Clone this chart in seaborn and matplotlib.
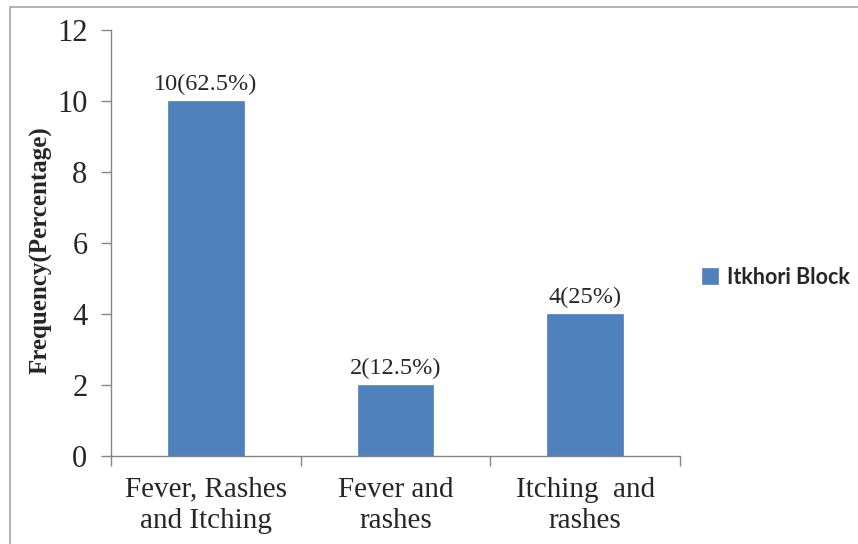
import matplotlib
matplotlib.use("Agg")
import matplotlib.pyplot as plt
import seaborn as sns
import pandas as pd
from matplotlib.patches import Rectangle
from matplotlib.ticker import FixedLocator, MultipleLocator

# Symptom frequencies reported in the block
symptoms = ["Fever, Rashes\nand Itching", "Fever and\nrashes", "Itching  and\nrashes"]
counts = [10, 2, 4]
percentages = [62.5, 12.5, 25]
block = "Itkhori Block"

df = pd.DataFrame({"Symptom": symptoms, "Frequency": counts, "Block": [block] * len(symptoms)})

sns.set_theme(style="white")
plt.rcParams["font.family"] = ["Liberation Serif", "DejaVu Serif"]

fig = plt.figure(figsize=(8.58, 5.44), dpi=100)
ax = fig.add_axes([0.1294, 0.1618, 0.6631, 0.7831])

bar_color = "#4F81BD"
sns.barplot(data=df, x="Symptom", y="Frequency", hue="Block", palette=[bar_color],
            width=0.4, ax=ax, saturation=1, edgecolor=bar_color, linewidth=0.5)

ax.set_xlim(-0.5, len(symptoms) - 0.5)
ax.set_ylim(0, 12)
ax.yaxis.set_major_locator(MultipleLocator(2))

# Value labels above each bar
labels = [f"{c}({p:g}%)" for c, p in zip(counts, percentages)]
ax.bar_label(ax.containers[0], labels=labels, padding=4, fontsize=17.5,
             family=["Liberation Serif"])

axis_color = "#868686"
for side in ["top", "right"]:
    ax.spines[side].set_visible(False)
for side in ["left", "bottom"]:
    ax.spines[side].set_color(axis_color)
    ax.spines[side].set_linewidth(1.0)

# Category separators as tick marks below the axis
ax.xaxis.set_minor_locator(FixedLocator([i - 0.5 for i in range(len(symptoms) + 1)]))
ax.tick_params(axis="x", which="major", length=0, pad=15, labelsize=21)
ax.tick_params(axis="x", which="minor", length=7, width=1.0, color=axis_color, bottom=True)
ax.tick_params(axis="y", which="major", length=7, width=1.0, color=axis_color, left=True,
               pad=10, labelsize=22)
for lbl in ax.get_xticklabels():
    lbl.set_linespacing(1.28)

ax.set_xlabel("")
ax.set_ylabel("Frequency(Percentage)", fontsize=18, fontweight="bold")
ax.yaxis.set_label_coords(-0.102, 0.484)

leg = ax.legend(loc="center left", bbox_to_anchor=(1.004, 0.42), frameon=False,
                handlelength=0.75, handleheight=0.75, handletextpad=0.45,
                prop={"family": "Lato", "weight": "bold", "size": 15.5})

# Outer frame around the chart area
fig.patches.append(Rectangle((10 / 858, -0.1), 2.0, 1.1 - 7 / 544, transform=fig.transFigure,
                             fill=False, edgecolor="#A6A6A6", linewidth=1.2))

fig.savefig("out.png", dpi=100)
